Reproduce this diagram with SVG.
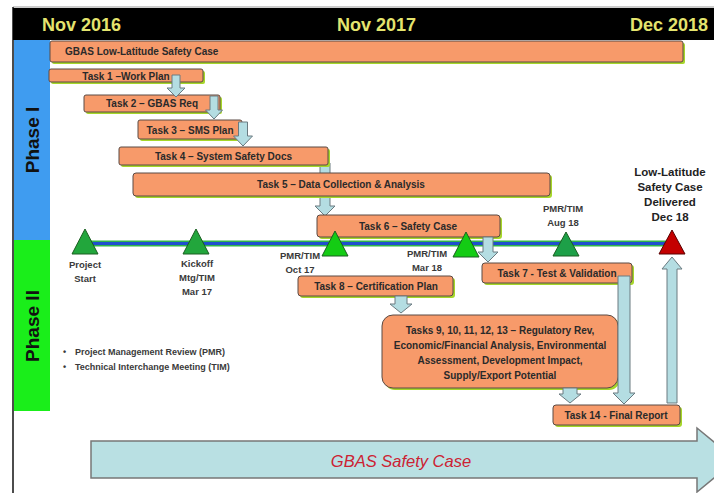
<svg xmlns="http://www.w3.org/2000/svg" width="714" height="493" viewBox="0 0 714 493">
<defs>
<style>
.bar{fill:#f79a6a;stroke:#5a4a44;stroke-width:1}
.sh{fill:#a6d62a}
.tt{font-family:"Liberation Sans",Arial,sans-serif;font-weight:bold;font-size:10px;fill:#2a2a2a;text-anchor:middle}
.ml{font-family:"Liberation Sans",Arial,sans-serif;font-weight:bold;font-size:9.5px;fill:#3a3a3a;text-anchor:middle}
.hd{font-family:"Liberation Sans",Arial,sans-serif;font-weight:bold;font-size:18px;fill:#e4e46e}
.ph{font-family:"Liberation Sans",Arial,sans-serif;font-weight:bold;font-size:19px;fill:#111;text-anchor:middle}
.arr{fill:#b4dde2;stroke:#6a7a80;stroke-width:1}
.tg{stroke:#1b5e20;stroke-width:1}
</style>
</defs>
<rect x="0" y="0" width="714" height="493" fill="#ffffff"/>
<!-- frame & header -->
<g id="frame">
<line x1="13" y1="7" x2="714" y2="7" stroke="#999" stroke-width="1"/>
<line x1="13" y1="7" x2="13" y2="493" stroke="#111" stroke-width="1.5"/>
<rect x="13" y="8" width="701" height="32" fill="#000"/>
<text class="hd" x="42" y="31">Nov 2016</text>
<text class="hd" x="337" y="31">Nov 2017</text>
<text class="hd" x="708" y="31" text-anchor="end">Dec 2018</text>
</g>
<g id="phase1">
<rect x="14" y="40" width="36" height="200" fill="#3f9cf0"/>
<text class="ph" transform="translate(39,140) rotate(-90)">Phase I</text>
</g>
<g id="phase2">
<rect x="14" y="240" width="36" height="171" fill="#1aee1a"/>
<text class="ph" transform="translate(39,326) rotate(-90)">Phase II</text>
</g>
<!-- timeline -->
<g id="timeline">
<rect x="85" y="240.5" width="587" height="6" fill="#2fb34a"/>
<rect x="85" y="242" width="587" height="3" fill="#1f4fcf"/>
</g>
<!-- connectors behind -->
<g id="connectors-back">
<path class="arr" d="M320,163 H330 V206 H335 L325,216 L315,206 H320 Z"/>
</g>
<!-- nodes -->
<g id="gbas-case">
<rect class="sh" x="52" y="43" width="633" height="21" rx="2"/>
<rect class="bar" x="50" y="41" width="633" height="21" rx="2"/>
<text class="tt" x="65" y="55" text-anchor="start" style="text-anchor:start">GBAS Low-Latitude Safety Case</text>
</g>
<g id="task1">
<rect class="sh" x="51" y="71" width="154" height="13" rx="2"/>
<rect class="bar" x="49" y="69" width="154" height="13" rx="2"/>
<text class="tt" x="126" y="79.5">Task 1 –Work Plan</text>
</g>
<g id="task2">
<rect class="sh" x="86" y="97" width="136" height="17" rx="2"/>
<rect class="bar" x="84" y="95" width="136" height="17" rx="2"/>
<text class="tt" x="152" y="107">Task 2 – GBAS Req</text>
</g>
<g id="task3">
<rect class="sh" x="140" y="122" width="104" height="19" rx="2"/>
<rect class="bar" x="138" y="120" width="104" height="19" rx="2"/>
<text class="tt" x="190" y="133.5">Task 3 – SMS Plan</text>
</g>
<g id="task4">
<rect class="sh" x="121" y="149" width="209" height="18" rx="2"/>
<rect class="bar" x="119" y="147" width="209" height="18" rx="2"/>
<text class="tt" x="223.5" y="160">Task 4 – System Safety Docs</text>
</g>
<g id="task5">
<rect class="sh" x="135" y="175" width="417" height="23" rx="3"/>
<rect class="bar" x="133" y="173" width="417" height="23" rx="3"/>
<text class="tt" x="341" y="188">Task 5 – Data Collection &amp; Analysis</text>
</g>
<g id="task6">
<rect class="sh" x="319" y="217" width="183" height="22" rx="3"/>
<rect class="bar" x="317" y="215" width="183" height="22" rx="3"/>
<text class="tt" x="408" y="229.5">Task 6 – Safety Case</text>
</g>
<g id="task7">
<rect class="sh" x="484" y="265" width="150" height="20" rx="3"/>
<rect class="bar" x="482" y="263" width="150" height="20" rx="3"/>
<text class="tt" x="557" y="277">Task 7 - Test &amp; Validation</text>
</g>
<g id="task8">
<rect class="sh" x="300" y="278" width="155" height="20" rx="3"/>
<rect class="bar" x="298" y="276" width="155" height="20" rx="3"/>
<text class="tt" x="376" y="290">Task 8 – Certification Plan</text>
</g>
<g id="tasks9-13">
<rect class="sh" x="384" y="317" width="236" height="73" rx="11"/>
<rect class="bar" x="382" y="315" width="236" height="73" rx="11"/>
<text class="tt" x="500" y="334">Tasks 9, 10, 11, 12, 13 – Regulatory Rev,</text>
<text class="tt" x="500" y="349">Economic/Financial Analysis, Environmental</text>
<text class="tt" x="500" y="364">Assessment, Development Impact,</text>
<text class="tt" x="500" y="379">Supply/Export Potential</text>
</g>
<g id="task14">
<rect class="sh" x="555" y="407" width="127" height="20" rx="3"/>
<rect class="bar" x="553" y="405" width="127" height="20" rx="3"/>
<text class="tt" x="616" y="419">Task 14 - Final Report</text>
</g>
<!-- milestones -->
<g id="ms-project-start">
<polygon class="tg" points="85,229 98,254 72,254" fill="#22a63c"/>
<text class="ml" x="85" y="268">Project</text>
<text class="ml" x="85" y="282">Start</text>
</g>
<g id="ms-kickoff">
<polygon class="tg" points="196,229 209,254 183,254" fill="#22a63c"/>
<text class="ml" x="197" y="267">Kickoff</text>
<text class="ml" x="197" y="281">Mtg/TIM</text>
<text class="ml" x="197" y="295">Mar 17</text>
</g>
<g id="ms-oct17">
<polygon class="tg" points="335,231 348,256 322,256" fill="#14cc14"/>
<text class="ml" x="300" y="259">PMR/TIM</text>
<text class="ml" x="300" y="273">Oct 17</text>
</g>
<g id="ms-mar18">
<polygon class="tg" points="466,232 479,257 453,257" fill="#14cc14"/>
<text class="ml" x="427" y="257">PMR/TIM</text>
<text class="ml" x="427" y="271">Mar 18</text>
</g>
<g id="ms-aug18">
<polygon class="tg" points="566,232 579,256 553,256" fill="#1da048"/>
<text class="ml" x="563" y="212">PMR/TIM</text>
<text class="ml" x="563" y="226">Aug 18</text>
</g>
<g id="ms-delivered">
<polygon points="672,230 685,254 659,254" fill="#c40000" stroke="#5a0000" stroke-width="1"/>
<text class="ml" x="670" y="176" style="font-size:11.5px;fill:#222">Low-Latitude</text>
<text class="ml" x="670" y="191" style="font-size:11.5px;fill:#222">Safety Case</text>
<text class="ml" x="670" y="206" style="font-size:11.5px;fill:#222">Delivered</text>
<text class="ml" x="670" y="221" style="font-size:11.5px;fill:#222">Dec 18</text>
</g>
<g id="legend">
<text class="ml" x="63" y="355" style="text-anchor:start;font-size:9px">•</text>
<text class="ml" x="75" y="355" style="text-anchor:start;font-size:9px">Project Management Review (PMR)</text>
<text class="ml" x="63" y="370" style="text-anchor:start;font-size:9px">•</text>
<text class="ml" x="75" y="370" style="text-anchor:start;font-size:9px">Technical Interchange Meeting (TIM)</text>
</g>
<!-- connectors -->
<g id="connectors">
<path class="arr" d="M172,75 H180 V88 H185 L176,97 L167,88 H172 Z"/>
<path class="arr" d="M210,96 H218 V110 H222.5 L214,119 L205.5,110 H210 Z"/>
<path class="arr" d="M238.5,122 H247.5 V136 H252.5 L243,146 L233.5,136 H238.5 Z"/>
<path class="arr" d="M483,237 H493 V252 H498 L488,262 L478,252 H483 Z"/>
<path class="arr" d="M395,296 H407 V304 H412 L401,313 L390,304 H395 Z"/>
<path class="arr" d="M563,388 H577 V394 H581 L570,403 L559,394 H563 Z"/>
<path class="arr" d="M618,276 H630 V393 H635 L624,404 L613,393 H618 Z"/>
<path class="arr" d="M667,403 V269 H662 L672,257 L682,269 H677 V403 Z"/>
</g>
<!-- bottom arrow -->
<g id="gbas-safety-case-arrow">
<path d="M91,441 H697 V428 L736,460 L697,492 V478 H91 Z" fill="#b9e0e3" stroke="#777" stroke-width="1.5"/>
<text x="401" y="467" font-family="'Liberation Sans',Arial,sans-serif" font-style="italic" font-size="16.5" fill="#cc2233" text-anchor="middle">GBAS Safety Case</text>
</g>
</svg>
